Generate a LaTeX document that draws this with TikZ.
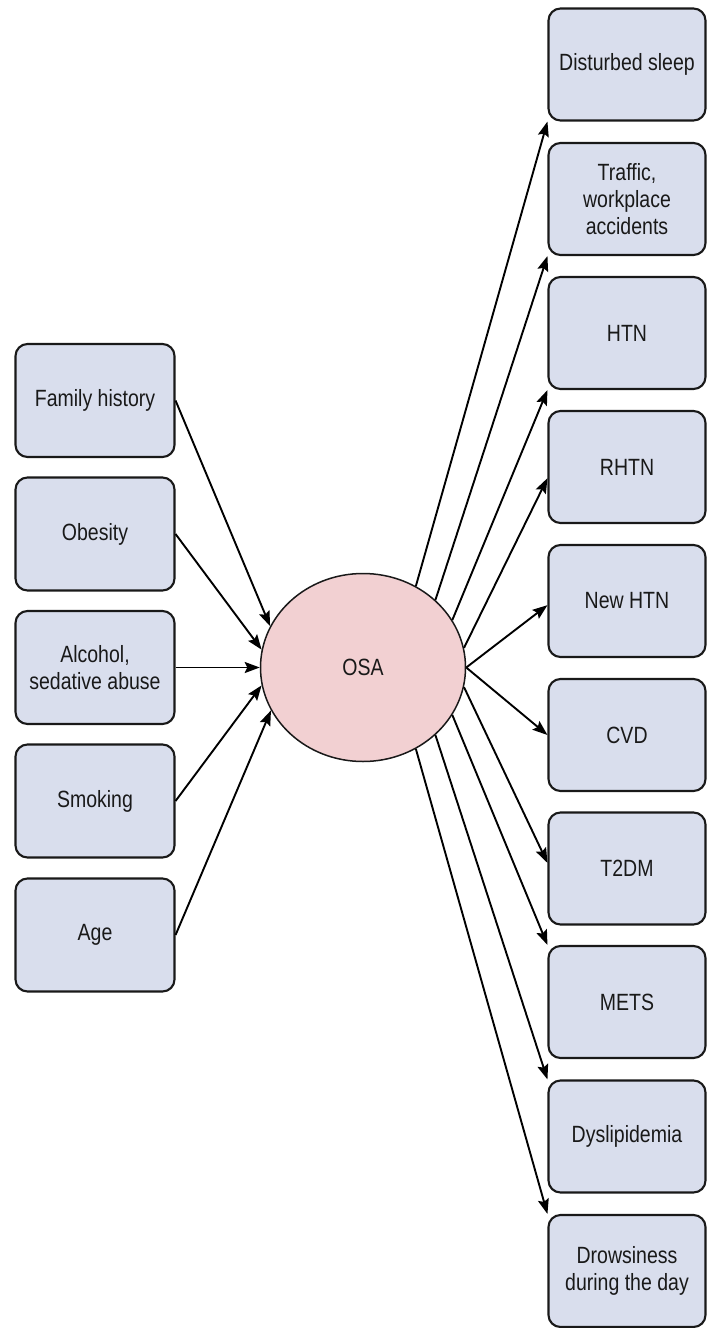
\documentclass[tikz,border=0pt]{standalone}
\usepackage{fontspec}
\setmainfont{Liberation Sans}[FakeStretch=0.83]
\usetikzlibrary{arrows.meta,shapes.geometric}
\definecolor{boxfill}{RGB}{217,222,237}
\definecolor{osafill}{RGB}{242,208,210}
\definecolor{ink}{RGB}{25,25,25}
\begin{document}
\begin{tikzpicture}[x=1pt,y=-1pt,
  box/.style={draw=ink, line width=2.1pt, rounded corners=12pt, fill=boxfill,
    minimum width=157pt, minimum height=112pt, align=center, inner sep=2pt,
    font=\fontsize{23.5}{27}\selectfont, text=ink},
  lbox/.style={box, minimum width=159pt, minimum height=113pt},
  osastyle/.style={ellipse, draw=ink, line width=1.5pt, fill=osafill,
    minimum width=205pt, minimum height=188pt, inner sep=0pt,
    font=\fontsize{23.5}{27}\selectfont, text=ink},
  arr/.style={draw=black, line width=1.9pt, -{Stealth[length=15pt,width=11pt,inset=2.5pt]}}]
\useasboundingbox (0,0) rectangle (707,1328);
% left causes
\node[lbox] (fh) at (95,400.5) {Family history};
\node[lbox] (ob) at (95,534) {Obesity};
\node[lbox] (al) at (95,667.5) {Alcohol,\\sedative abuse};
\node[lbox] (sm) at (95,801) {Smoking};
\node[lbox] (ag) at (95,935) {Age};
% centre
\node[osastyle] (osa) at (363,667.5) {OSA};
% right consequences
\node[box] (ds) at (627,64.5) {Disturbed sleep};
\node[box] (tr) at (627,199) {Traffic,\\workplace\\accidents};
\node[box] (htn) at (627,333) {HTN};
\node[box] (rhtn) at (627,467) {RHTN};
\node[box] (nhtn) at (627,601) {New HTN};
\node[box] (cvd) at (627,735) {CVD};
\node[box] (t2dm) at (627,868.5) {T2DM};
\node[box] (mets) at (627,1002) {METS};
\node[box] (dys) at (627,1136.5) {Dyslipidemia};
\node[box] (drow) at (627,1271) {Drowsiness\\during the day};
% connectors in
\draw[arr] (fh.east) -- (osa.156);
\draw[arr] (ob.east) -- (osa.170);
\draw[arr] (al.east) -- (osa.west);
\draw[arr] (sm.east) -- (osa.190);
\draw[arr] (ag.east) -- (osa.205);
% connectors out
\draw[arr] (osa.57) -- (ds.south west);
\draw[arr] (osa.43) -- (tr.south west);
\draw[arr] (osa.28) -- (htn.south west);
\draw[arr] (osa.11) -- (rhtn.188);
\draw[arr] (osa.east) -- (nhtn.183);
\draw[arr] (osa.east) -- (cvd.west);
\draw[arr] (osa.-11) -- (t2dm.176);
\draw[arr] (osa.-28) -- (mets.north west);
\draw[arr] (osa.-43) -- (dys.north west);
\draw[arr] (osa.-57) -- (drow.north west);
\end{tikzpicture}
\end{document}
